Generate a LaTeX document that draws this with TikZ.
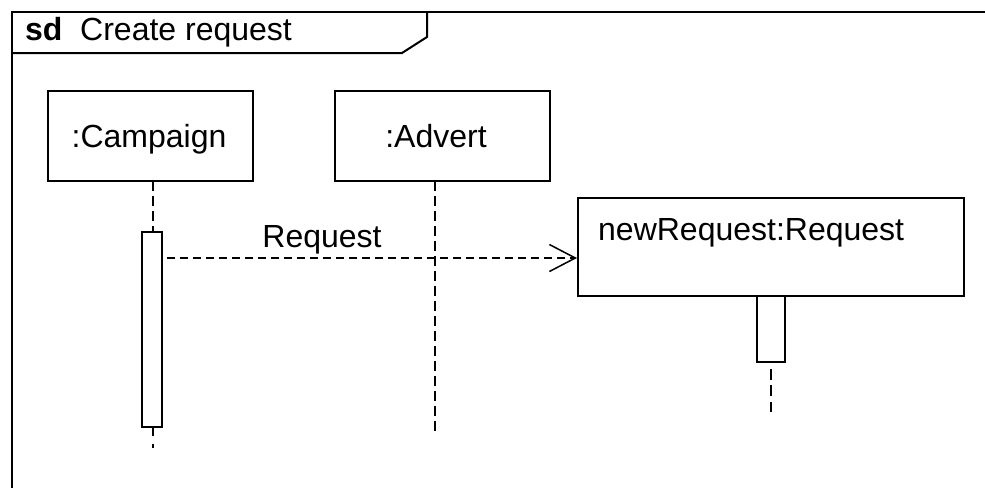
\documentclass[tikz,border=0pt]{standalone}
\usepackage{fontspec}
\setmainfont{Liberation Sans}
\usetikzlibrary{arrows.meta}
\begin{document}
\begin{tikzpicture}[x=1pt,y=-1pt,
  lbl/.style={font=\fontsize{32}{37}\selectfont, inner sep=0pt},
  objbox/.style={draw, line width=2pt, rectangle, inner sep=0pt, fill=white},
  actbar/.style={draw, line width=2pt, rectangle, inner sep=0pt, fill=white},
  lifeline/.style={line width=1.8pt, dash pattern=on 10pt off 5pt},
  msg/.style={line width=1.5pt, dash pattern=on 8pt off 5pt,
    -{Straight Barb[length=26pt,width=27pt,line width=1.5pt]}}
]
\useasboundingbox (0,0) rectangle (985,488);

% frame and title tab
\draw[line width=2pt] (985,12) -- (12,12) -- (12,488);
\draw[line width=2pt] (12,53) -- (402,53) -- (427,37) -- (427,12);
\node[lbl, anchor=base west] (sdkw) at (25,40) {\textbf{sd}};
\node[lbl, anchor=base west] (title) at (80,40) {Create request};

% lifeline heads
\node[objbox, minimum width=205pt, minimum height=90pt] (campaign) at (150.5,136) {};
\node[lbl, anchor=base] (campaigntxt) at (149,147) {:Campaign};
\node[objbox, minimum width=215pt, minimum height=90pt] (advert) at (442.5,136) {};
\node[lbl, anchor=base] (adverttxt) at (436,147) {:Advert};
\node[objbox, minimum width=386pt, minimum height=98pt] (newreq) at (771,247) {};
\node[lbl, anchor=base west] (newreqtxt) at (598,240) {newRequest:Request};

% activation bars
\node[actbar, minimum width=20pt, minimum height=195pt] (campact) at (152,329.5) {};
\node[actbar, minimum width=28pt, minimum height=66pt] (newact) at (771,329) {};

% lifelines
\coordinate (campTop) at (153,181);
\coordinate (campEnd) at (153,448);
\coordinate (advTop) at (435,181);
\coordinate (advEnd) at (435,435);
\coordinate (newEnd) at (771,412);
\draw[lifeline] (campTop) -- (campTop |- campact.north);
\draw[lifeline, dash pattern=on 8pt off 8pt] (campTop |- campact.south) -- (campEnd);
\draw[lifeline] (advTop) -- (advEnd);
\draw[lifeline, dash pattern=on 0pt off 6pt on 11pt off 5pt on 11pt off 6pt on 11pt off 30pt] (newact.south) -- (newEnd);

% create message
\coordinate (msgstart) at (167,258);
\draw[msg] (msgstart) -- (newreq.west |- msgstart);
\node[lbl, anchor=base] (msglbl) at (322,247) {Request};
\end{tikzpicture}
\end{document}
